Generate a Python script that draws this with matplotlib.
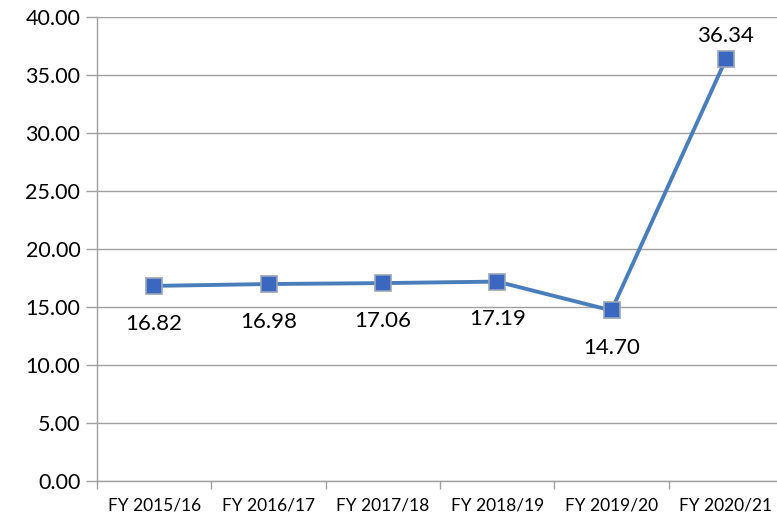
import matplotlib.pyplot as plt
import numpy as np

plt.rcParams['font.family'] = ['Lato', 'DejaVu Sans']

years = ['FY 2015/16', 'FY 2016/17', 'FY 2017/18', 'FY 2018/19',
         'FY 2019/20', 'FY 2020/21']
values = [16.82, 16.98, 17.06, 17.19, 14.70, 36.34]
yticks = [0, 5, 10, 15, 20, 25, 30, 35, 40]

fig = plt.figure(figsize=(7.77, 5.18), dpi=100)
# axes spans a bit past the right edge, like the cropped original
ax = fig.add_axes([97 / 777, 1 - 481 / 518, 686 / 777, 464 / 518])

x = np.arange(len(years))
ax.plot(x, values, color='#4a7ebb', lw=2.8, marker='s', ms=12,
        markerfacecolor='#3a67c0', markeredgecolor='#9aa5b8', mew=1.2,
        zorder=3, clip_on=False)

# data labels: below, except the last one above
for i, v in enumerate(values):
    if i == len(values) - 1:
        ax.annotate(f'{v:.2f}', (i, v), xytext=(0, 10), textcoords='offset points',
                    ha='center', va='bottom', fontsize=16)
    else:
        ax.annotate(f'{v:.2f}', (i, v), xytext=(0, -20), textcoords='offset points',
                    ha='center', va='top', fontsize=16)

ax.set_xlim(-0.5, len(years) - 0.5)
ax.set_ylim(0, 40)
ax.set_yticks(yticks)
ax.set_yticklabels([f'{t:.2f}' for t in yticks], fontsize=15.5)
ax.set_xticks(x)
ax.set_xticklabels(years, fontsize=12.5)
ax.set_xticks(np.arange(len(years) + 1) - 0.5, minor=True)
ax.tick_params(axis='x', which='major', length=0, pad=12)
ax.tick_params(axis='x', which='minor', length=6, color='#a0a0a0', width=1)
ax.tick_params(axis='y', length=8, color='#a0a0a0', width=1, pad=4)

ax.grid(axis='y', color='#a0a0a0', lw=1)
ax.set_axisbelow(True)
for s in ['top', 'right']:
    ax.spines[s].set_visible(False)
for s in ['left', 'bottom']:
    ax.spines[s].set_color('#a0a0a0')
    ax.spines[s].set_linewidth(1)

plt.savefig('out.png', dpi=100)
